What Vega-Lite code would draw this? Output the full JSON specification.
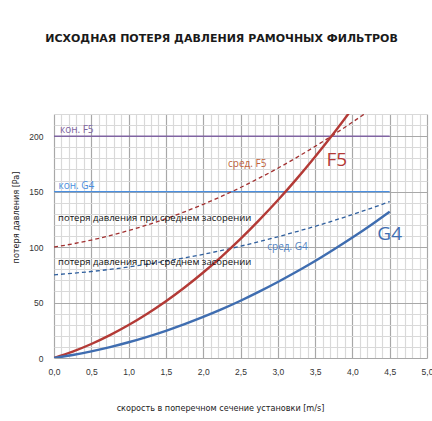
{
  "$schema": "https://vega.github.io/schema/vega-lite/v6.json",
  "width": 373,
  "height": 244,
  "autosize": {"type": "none"},
  "padding": {"left": 54, "top": 114, "right": 5, "bottom": 63},
  "background": "white",
  "config": {"view": {"stroke": null}},
  "title": {
    "text": "ИСХОДНАЯ ПОТЕРЯ ДАВЛЕНИЯ РАМОЧНЫХ ФИЛЬТРОВ",
    "font": "DejaVu Sans",
    "fontSize": 11,
    "fontWeight": "bold",
    "color": "#1a1a1a",
    "anchor": "middle",
    "frame": "group",
    "dx": -19,
    "offset": 66
  },
  "datasets": {
    "curves": [
      {"x": 0, "F5": 0, "F5avg": 100, "G4": 0, "G4avg": 75},
      {"x": 0.25, "F5": 5.75, "F5avg": 102.9, "G4": 2.7, "G4avg": 76.4},
      {"x": 0.5, "F5": 12.6, "F5avg": 106.3, "G4": 6.0, "G4avg": 78.0},
      {"x": 0.75, "F5": 20.6, "F5avg": 110.3, "G4": 9.8, "G4avg": 79.9},
      {"x": 1.0, "F5": 29.7, "F5avg": 114.9, "G4": 14.2, "G4avg": 82.1},
      {"x": 1.25, "F5": 39.9, "F5avg": 120.0, "G4": 19.1, "G4avg": 84.6},
      {"x": 1.5, "F5": 51.2, "F5avg": 125.6, "G4": 24.5, "G4avg": 87.3},
      {"x": 1.75, "F5": 63.6, "F5avg": 131.8, "G4": 30.5, "G4avg": 90.3},
      {"x": 2.0, "F5": 77.1, "F5avg": 138.6, "G4": 37.0, "G4avg": 93.5},
      {"x": 2.25, "F5": 91.7, "F5avg": 145.9, "G4": 44.0, "G4avg": 97.0},
      {"x": 2.5, "F5": 107.4, "F5avg": 153.7, "G4": 51.6, "G4avg": 100.8},
      {"x": 2.75, "F5": 124.3, "F5avg": 162.2, "G4": 59.8, "G4avg": 104.9},
      {"x": 3.0, "F5": 142.2, "F5avg": 171.1, "G4": 68.5, "G4avg": 109.3},
      {"x": 3.25, "F5": 161.3, "F5avg": 180.7, "G4": 77.7, "G4avg": 113.9},
      {"x": 3.5, "F5": 181.5, "F5avg": 190.8, "G4": 87.4, "G4avg": 118.7},
      {"x": 3.75, "F5": 202.7, "F5avg": 201.4, "G4": 97.8, "G4avg": 123.9},
      {"x": 4.0, "F5": 225.1, "F5avg": 212.6, "G4": 108.6, "G4avg": 129.3},
      {"x": 4.25, "F5": 249.0, "F5avg": 224.3, "G4": 120.0, "G4avg": 135.0},
      {"x": 4.5, "F5": 274.0, "F5avg": 236.6, "G4": 132.0, "G4avg": 141.0}
    ],
    "limits": [
      {"x": 0, "y": 200, "series": "кон. F5"},
      {"x": 4.5, "y": 200, "series": "кон. F5"},
      {"x": 0, "y": 150, "series": "кон. G4"},
      {"x": 4.5, "y": 150, "series": "кон. G4"}
    ],
    "labels": [
      {"x": 0.08, "y": 201, "label": "кон. F5", "kind": "konF5"},
      {"x": 0.06, "y": 151, "label": "кон. G4", "kind": "konG4"},
      {"x": 2.59, "y": 175, "label": "сред. F5", "kind": "avgF5"},
      {"x": 3.13, "y": 100.4, "label": "сред. G4", "kind": "avgG4"},
      {"x": 3.79, "y": 178.5, "label": "F5", "kind": "F5"},
      {"x": 4.5, "y": 111.8, "label": "G4", "kind": "G4"},
      {"x": 0.054, "y": 126, "label": "потеря давления при среднем засорении", "kind": "note"},
      {"x": 0.054, "y": 86.6, "label": "потеря давления при среднем засорении", "kind": "note"}
    ]
  },
  "encoding": {
    "x": {
      "field": "x", "type": "quantitative",
      "scale": {"domain": [0, 5], "nice": false, "zero": false},
      "axis": {
        "title": "скорость в поперечном сечение установки [m/s]",
        "values": [0,0.1,0.2,0.3,0.4,0.5,0.6,0.7,0.8,0.9,1,1.1,1.2,1.3,1.4,1.5,1.6,1.7,1.8,1.9,2,2.1,2.2,2.3,2.4,2.5,2.6,2.7,2.8,2.9,3,3.1,3.2,3.3,3.4,3.5,3.6,3.7,3.8,3.9,4,4.1,4.2,4.3,4.4,4.5,4.6,4.7,4.8,4.9,5],
        "labelExpr": "abs(datum.value*2 - round(datum.value*2)) < 0.001 ? replace(format(datum.value, '.1f'), '.', ',') : ''",
        "labelFont": "Liberation Sans",
        "labelFontSize": 8.5,
        "labelColor": "#333333",
        "labelPadding": 9,
        "labelFlush": false,
        "labelOverlap": false,
        "domain": false,
        "ticks": false,
        "grid": true,
        "gridColor": {"condition": {"test": "abs(datum.value*2 - round(datum.value*2)) < 0.001", "value": "#a8a8a8"}, "value": "#d9d9d9"},
        "gridWidth": 1.2,
        "titleFont": "'DejaVu Sans Condensed', 'Liberation Sans'",
        "titleFontSize": 9,
        "titleFontWeight": "normal",
        "titleColor": "#222222",
        "titleX": 166,
        "titleY": 49,
        "titleAlign": "center",
        "titleBaseline": "middle"
      }
    },
    "y": {
      "field": "y", "type": "quantitative",
      "scale": {"domain": [0, 220], "nice": false, "zero": false},
      "axis": {
        "title": "потеря давления [Pa]",
        "values": [0,10,20,30,40,50,60,70,80,90,100,110,120,130,140,150,160,170,180,190,200,210,220],
        "labelExpr": "datum.value % 50 === 0 ? datum.label : ''",
        "labelFont": "Liberation Sans",
        "labelFontSize": 8.5,
        "labelColor": "#333333",
        "labelPadding": 11,
        "labelOverlap": false,
        "domain": false,
        "ticks": false,
        "grid": true,
        "gridColor": {"condition": {"test": "datum.value % 50 === 0", "value": "#a8a8a8"}, "value": "#d9d9d9"},
        "gridWidth": 1.2,
        "titleFont": "'DejaVu Sans Condensed', 'Liberation Sans'",
        "titleFontSize": 9,
        "titleFontWeight": "normal",
        "titleColor": "#222222",
        "titleAngle": -90,
        "titleX": -39,
        "titleY": 103,
        "titleAlign": "center",
        "titleBaseline": "middle"
      }
    }
  },
  "layer": [
    {
      "data": {"name": "limits"},
      "transform": [{"filter": "datum.series === 'кон. F5'"}],
      "mark": {"type": "line", "color": "#8064a2", "strokeWidth": 1.6, "clip": true}
    },
    {
      "data": {"name": "limits"},
      "transform": [{"filter": "datum.series === 'кон. G4'"}],
      "mark": {"type": "line", "color": "#4a8fe0", "strokeWidth": 1.4, "clip": true}
    },
    {
      "data": {"name": "curves"},
      "mark": {"type": "line", "color": "#a23030", "strokeWidth": 1.3, "strokeDash": [4, 3], "interpolate": "monotone", "clip": true},
      "encoding": {"y": {"field": "F5avg", "type": "quantitative"}}
    },
    {
      "data": {"name": "curves"},
      "mark": {"type": "line", "color": "#2f5f9e", "strokeWidth": 1.3, "strokeDash": [4, 3], "interpolate": "monotone", "clip": true},
      "encoding": {"y": {"field": "G4avg", "type": "quantitative"}}
    },
    {
      "data": {"name": "curves"},
      "mark": {"type": "line", "color": "#b33a36", "strokeWidth": 2.4, "interpolate": "monotone", "clip": true},
      "encoding": {"y": {"field": "F5", "type": "quantitative"}}
    },
    {
      "data": {"name": "curves"},
      "mark": {"type": "line", "color": "#3f6db0", "strokeWidth": 2.4, "interpolate": "monotone", "clip": true},
      "encoding": {"y": {"field": "G4", "type": "quantitative"}}
    },
    {
      "data": {"name": "labels"},
      "transform": [{"filter": "datum.kind === 'konF5'"}],
      "mark": {"type": "text", "align": "left", "baseline": "bottom", "font": "Open Sans", "fontSize": 10, "color": "#8064a2"},
      "encoding": {"text": {"field": "label"}}
    },
    {
      "data": {"name": "labels"},
      "transform": [{"filter": "datum.kind === 'konG4'"}],
      "mark": {"type": "text", "align": "left", "baseline": "bottom", "font": "Open Sans", "fontSize": 10, "color": "#4a8fe0"},
      "encoding": {"text": {"field": "label"}}
    },
    {
      "data": {"name": "labels"},
      "transform": [{"filter": "datum.kind === 'avgF5'"}],
      "mark": {"type": "text", "align": "center", "baseline": "middle", "font": "Open Sans", "fontSize": 10, "color": "#c0603a"},
      "encoding": {"text": {"field": "label"}}
    },
    {
      "data": {"name": "labels"},
      "transform": [{"filter": "datum.kind === 'avgG4'"}],
      "mark": {"type": "text", "align": "center", "baseline": "middle", "font": "Open Sans", "fontSize": 10, "color": "#4f7fc0"},
      "encoding": {"text": {"field": "label"}}
    },
    {
      "data": {"name": "labels"},
      "transform": [{"filter": "datum.kind === 'F5'"}],
      "mark": {"type": "text", "align": "center", "baseline": "middle", "font": "Open Sans", "fontSize": 19, "color": "#b33a36"},
      "encoding": {"text": {"field": "label"}}
    },
    {
      "data": {"name": "labels"},
      "transform": [{"filter": "datum.kind === 'G4'"}],
      "mark": {"type": "text", "align": "center", "baseline": "middle", "font": "Open Sans", "fontSize": 19, "color": "#3f6db0"},
      "encoding": {"text": {"field": "label"}}
    },
    {
      "data": {"name": "labels"},
      "transform": [{"filter": "datum.kind === 'note'"}],
      "mark": {"type": "text", "align": "left", "baseline": "middle", "font": "Open Sans", "fontSize": 9.5, "color": "#111111"},
      "encoding": {"text": {"field": "label"}}
    }
  ]
}
